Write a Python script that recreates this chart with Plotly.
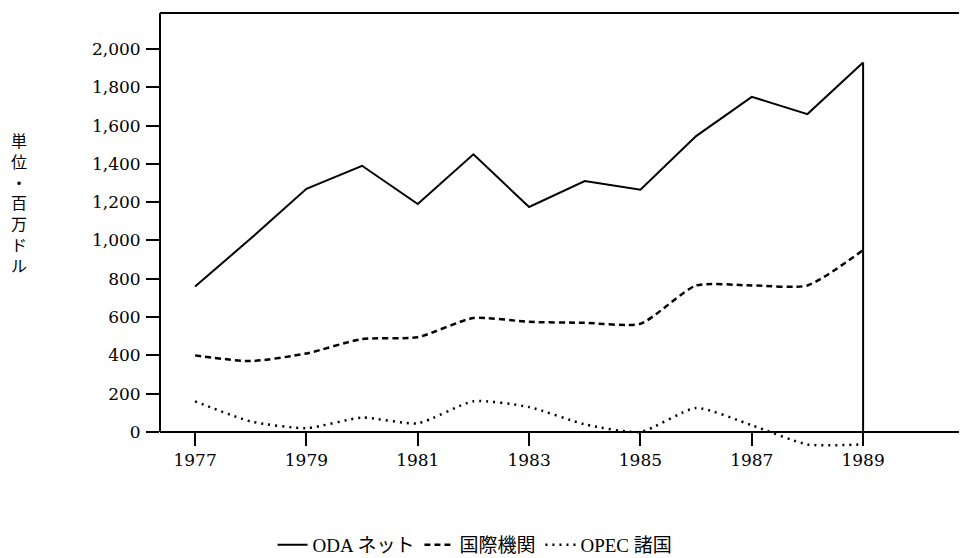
import plotly.graph_objects as go

# ---- data ----
years = [1977, 1978, 1979, 1980, 1981, 1982, 1983, 1984, 1985, 1986, 1987, 1988, 1989]
oda_net = [760, 1010, 1270, 1390, 1190, 1450, 1175, 1310, 1265, 1545, 1750, 1660, 1930]
intl_org = [400, 370, 410, 485, 495, 595, 575, 570, 565, 765, 765, 765, 950]
opec = [160, 55, 20, 75, 45, 160, 130, 40, 0, 125, 35, -65, -65]

series_names = ["ODA ネット", "国際機関", "OPEC 諸国"]
y_ticks = [0, 200, 400, 600, 800, 1000, 1200, 1400, 1600, 1800, 2000]
x_ticks = [1977, 1979, 1981, 1983, 1985, 1987, 1989]
y_title = "単位・百万ドル"

# ---- styling ----
latin = "DejaVu Serif, Noto Sans CJK JP, serif"
cjk = "Liberation Serif, Noto Sans CJK JP, sans-serif"
x_range = [1976.37, 1991.01]
y_range = [-89, 2188]

fig = go.Figure()
fig.add_trace(go.Scatter(x=years, y=oda_net, name=series_names[0], mode="lines",
                         line=dict(color="black", width=2)))
fig.add_trace(go.Scatter(x=years, y=intl_org, name=series_names[1], mode="lines",
                         line=dict(color="black", width=2.5, dash="6px,4px",
                                   shape="spline", smoothing=0.6)))
fig.add_trace(go.Scatter(x=years, y=opec, name=series_names[2], mode="lines",
                         line=dict(color="black", width=2.5, dash="2px,5px",
                                   shape="spline", smoothing=0.6)))
# vertical drop of the solid line at the last year
fig.add_trace(go.Scatter(x=[years[-1], years[-1]], y=[oda_net[-1], 0], mode="lines",
                         line=dict(color="black", width=2), showlegend=False,
                         hoverinfo="skip"))

fig.update_xaxes(range=x_range, tickvals=x_ticks, ticks="outside", ticklen=13,
                 tickwidth=2, tickcolor="black", showline=True, linewidth=2,
                 linecolor="black", showgrid=False, zeroline=False,
                 anchor="free", position=(0 - y_range[0]) / (y_range[1] - y_range[0]),
                 tickfont=dict(family=latin, size=17, color="black"))
fig.update_yaxes(range=y_range, tickvals=y_ticks, tickformat=",", ticks="outside",
                 ticklen=13, tickwidth=2, tickcolor="black", showline=False,
                 showgrid=False, zeroline=False, ticklabelstandoff=2,
                 tickfont=dict(family=latin, size=17, color="black"))

fig.add_shape(type="line", xref="x domain", x0=0, x1=0, yref="y", y0=0, y1=y_range[1],
              line=dict(color="black", width=2))
fig.add_shape(type="line", xref="x domain", x0=0, x1=1, yref="y domain", y0=1, y1=1,
              line=dict(color="black", width=2))

fig.add_annotation(text="<br>".join(list(y_title)), xref="paper", yref="paper",
                   x=-0.173, y=0.562, xanchor="center", yanchor="middle",
                   showarrow=False, font=dict(family=cjk, size=16, color="black"))

fig.update_layout(
    width=967, height=558,
    margin=dict(l=152, r=0, t=5, b=117),
    plot_bgcolor="white", paper_bgcolor="white",
    legend=dict(orientation="h", xref="container", yref="container",
                x=0.483, y=0.0376, xanchor="center", yanchor="middle",
                font=dict(family=cjk, size=19, color="black"),
                itemwidth=30),
)

fig.write_html("out.html")
